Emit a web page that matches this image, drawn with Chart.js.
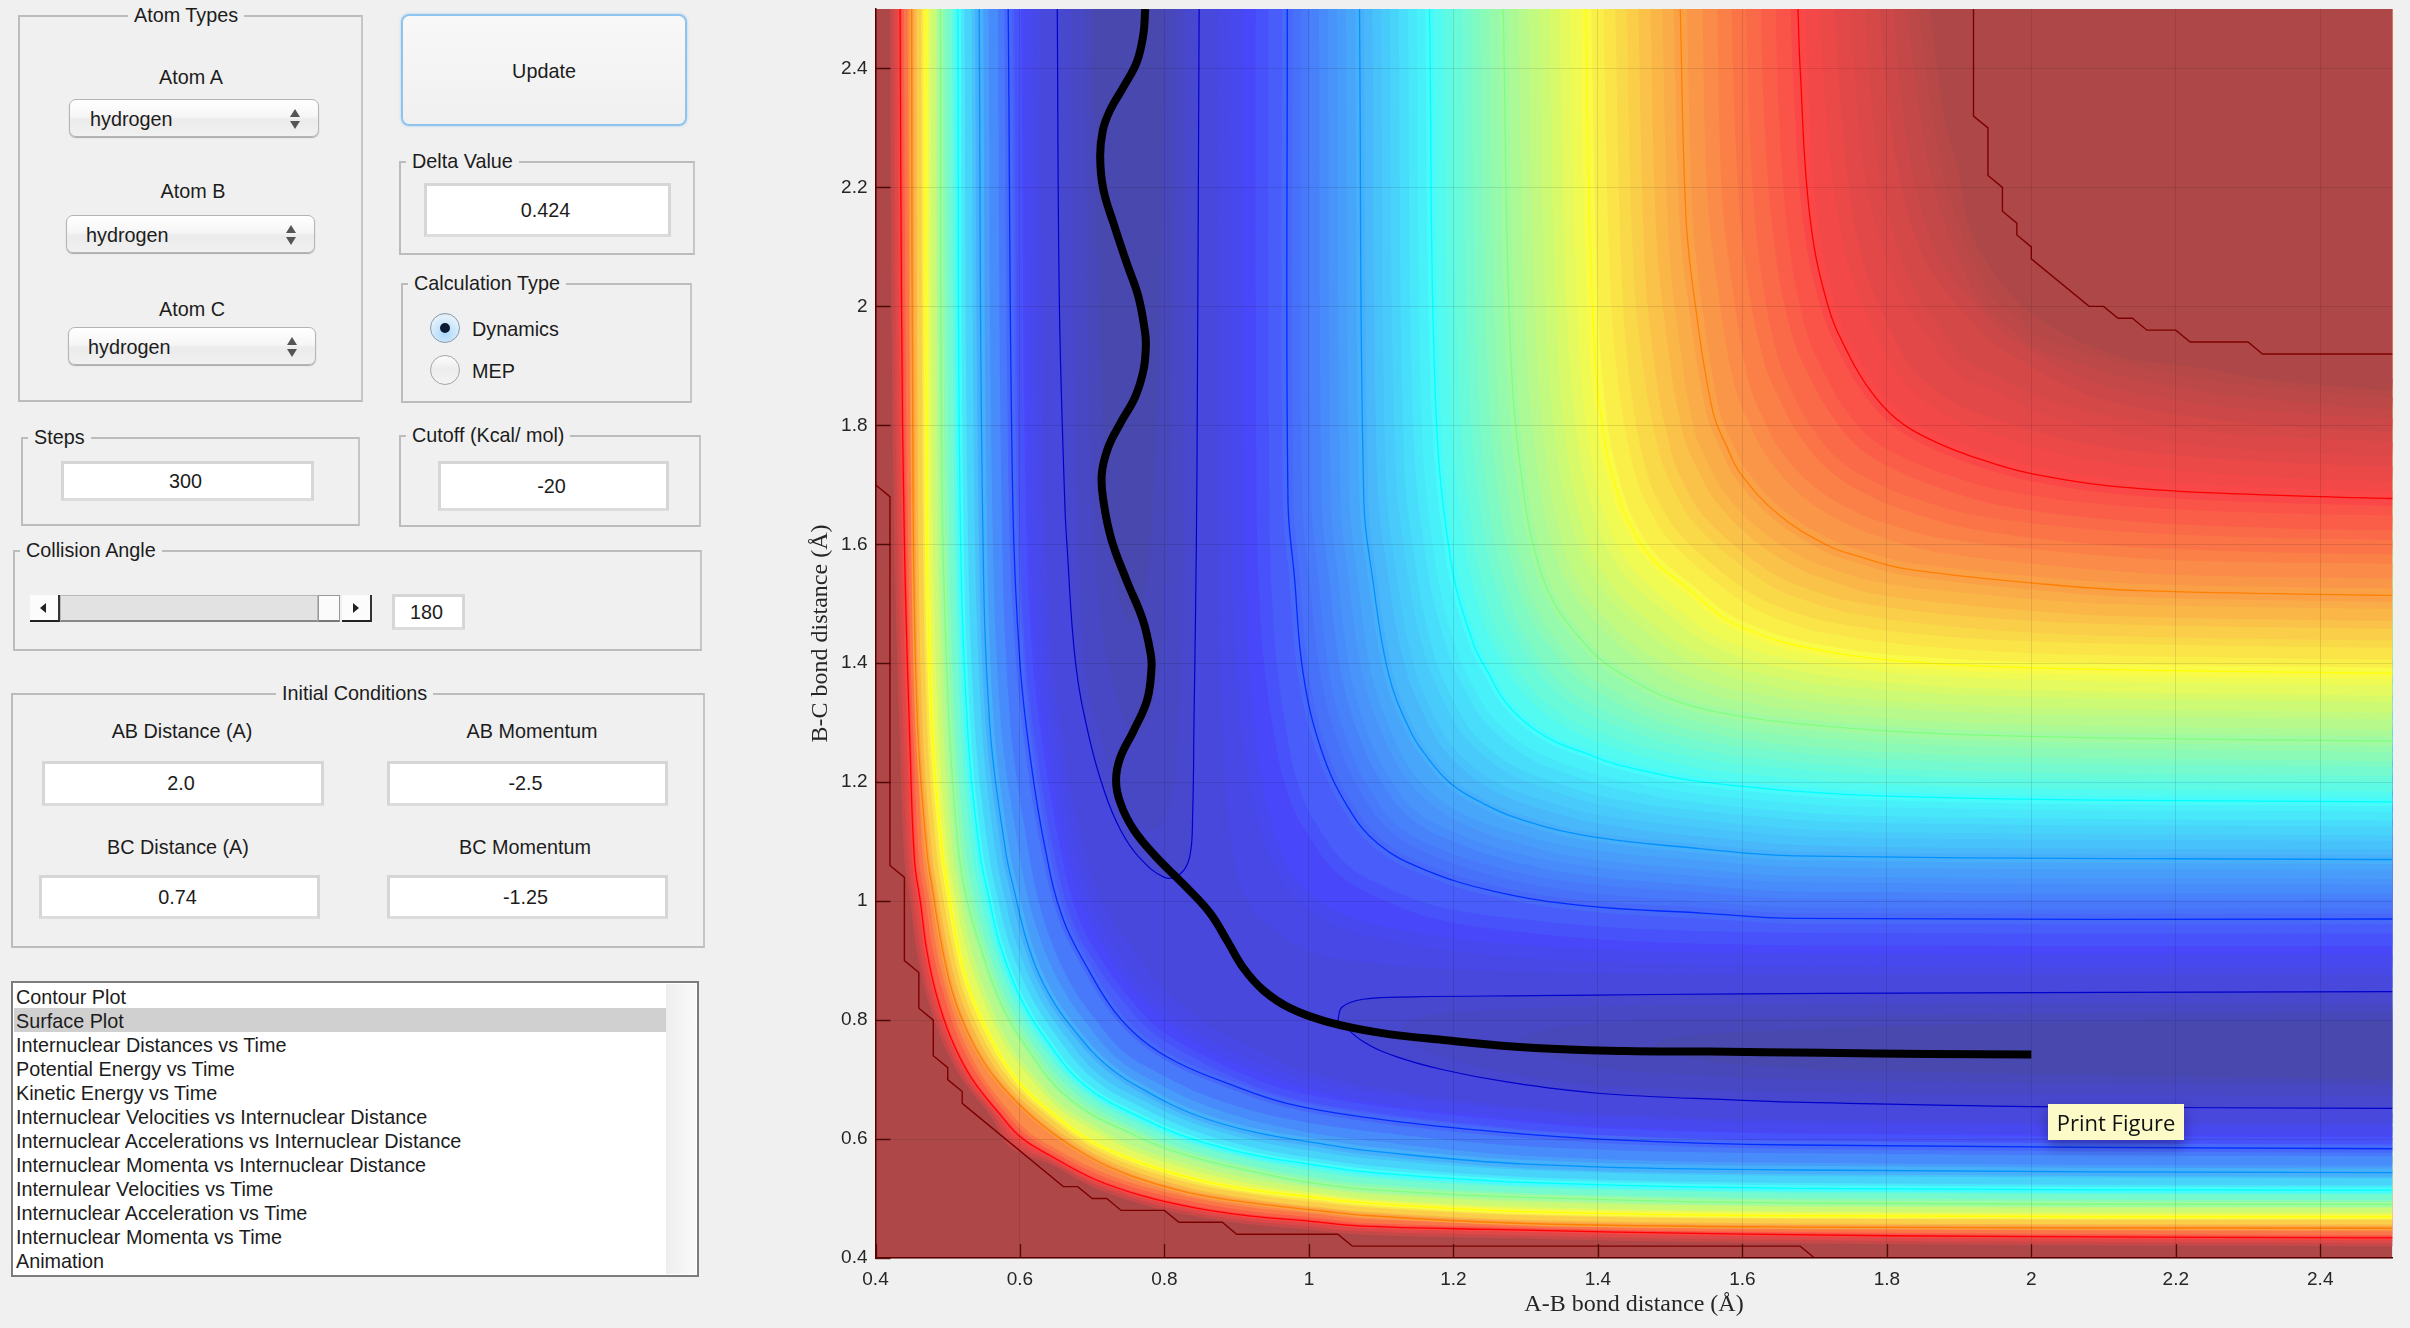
<!DOCTYPE html>
<html><head><meta charset="utf-8">
<script src="https://cdn.jsdelivr.net/npm/chart.js@4"></script>
<style>
html,body{margin:0;padding:0;background:#f0f0f0;width:2410px;height:1328px;overflow:hidden;font-family:"Liberation Sans",sans-serif;color:#1c1c1c;font-size:19.8px}
#c{position:absolute;left:760px;top:0}
.a{position:absolute;box-sizing:border-box}
.frame{border:2px solid #bcbcbc;border-right-color:#c6c6c6}
.title{background:#f0f0f0;padding:0 6px;line-height:22px;white-space:nowrap;transform:translateY(-50%)}
.lab{white-space:nowrap;transform:translate(-50%,-50%);line-height:22px}
.inp{background:#fff;border:3px solid #d6d6d6;border-bottom-color:#dcdcdc;display:flex;align-items:center;justify-content:center;padding-right:4px}
.dd{border:1px solid #b4b4b4;border-radius:7px;background:linear-gradient(#fff,#f6f6f6 45%,#ebebeb 55%,#f1f1f1);box-shadow:0 1px 1px #aaa;line-height:38px}
.up,.dn{position:absolute;width:0;height:0;border-left:5px solid transparent;border-right:5px solid transparent}
.up{border-bottom:8px solid #555}.dn{border-top:8px solid #555}
.li{white-space:nowrap;line-height:24px}
</style></head><body>
<canvas id="c" width="1650" height="1328"></canvas>
<div id="ui"></div>
<script>
// Surface contours: each curve runs from the top edge to the A-B = B-C diagonal;
// the surface is symmetric about that diagonal, so the second half of a curve is its reflection.
const wallLevels=[.96,.92,.875,.81,.75,.687,.625,.562,.5,.437,.375,.322,.27,.22,.17,.14,.11,.085];
const wallCurves=[
[[.422,2.5],[.424,2],[.428,1.6],[.436,1.25],[.442,1.068],[.45,1],[.459,.917],[.472,.844],[.492,.771],[.52,.704],[.56,.642],[.588,.588]],
[[.428,2.5],[.43,2],[.434,1.6],[.442,1.25],[.448,1.068],[.456,1],[.465,.917],[.478,.844],[.498,.771],[.526,.704],[.566,.642],[.595,.595]],
[[.434,2.5],[.436,2],[.44,1.6],[.448,1.25],[.454,1.068],[.462,1],[.471,.917],[.484,.844],[.504,.771],[.532,.704],[.572,.642],[.602,.602]],
[[.442,2.5],[.444,2],[.449,1.5],[.456,1.25],[.463,1.068],[.472,1],[.482,.917],[.497,.844],[.517,.771],[.546,.704],[.585,.642],[.61,.61]],
[[.45,2.5],[.452,1.675],[.458,1.3],[.471,1.085],[.479,1.018],[.493,.917],[.51,.833],[.538,.754],[.572,.693],[.627,.627]],
[[.46,2.5],[.462,1.675],[.468,1.3],[.481,1.085],[.49,1.01],[.504,.917],[.521,.838],[.552,.754],[.586,.693],[.636,.636]],
[[.4695,2.5],[.471,1.675],[.478,1.3],[.492,1.085],[.503,1],[.515,.917],[.532,.844],[.566,.754],[.6,.693],[.644,.644]],
[[.48,2.5],[.482,1.675],[.49,1.3],[.503,1.085],[.515,1],[.529,.92],[.551,.84],[.584,.757],[.625,.693],[.655,.655]],
[[.49,2.5],[.4925,1.675],[.502,1.3],[.515,1.085],[.527,1],[.544,.928],[.572,.833],[.606,.76],[.668,.668]],
[[.502,2.5],[.505,1.675],[.514,1.3],[.529,1.085],[.542,1],[.558,.928],[.586,.836],[.62,.765],[.68,.68]],
[[.514,2.5],[.517,1.675],[.527,1.3],[.544,1.085],[.558,1],[.572,.928],[.6,.839],[.634,.771],[.69,.69]],
[[.528,2.5],[.532,1.675],[.542,1.3],[.561,1.085],[.575,1],[.591,.925],[.62,.841],[.656,.774],[.705,.705]],
[[.5435,2.5],[.548,1.675],[.558,1.3],[.58,1.085],[.592,1.018],[.612,.923],[.64,.844],[.679,.777],[.722,.722]],
[[.563,2.5],[.568,1.675],[.58,1.3],[.605,1.085],[.619,1],[.64,.92],[.668,.85],[.7,.795],[.74,.74]],
[[.5837,2.5],[.59,1.673],[.6,1.4],[.615,1.235],[.634,1.094],[.659,.972],[.696,.882],[.73,.816],[.768,.768]],
[[.597,2.5],[.603,1.673],[.613,1.4],[.63,1.235],[.65,1.094],[.676,.972],[.713,.89],[.75,.83],[.785,.785]],
[[.613,2.5],[.619,1.673],[.63,1.4],[.648,1.235],[.669,1.094],[.697,.985],[.735,.9],[.77,.845],[.805,.805]],
[[.635,2.5],[.641,1.673],[.652,1.4],[.671,1.235],[.695,1.094],[.726,.99],[.765,.92],[.795,.87],[.83,.83]]
];
const plateauLevels=[.085,.11,.14,.17,.195,.22,.245,.27,.296,.322,.348,.375,.406,.437,.469,.5,.531,.562,.594,.625,.656,.687,.719,.75,.781,.812,.844,.875,.9,.925,.95,.975,1];
const plateauCurves=[
[[.865,2.5],[.866,1.7],[.868,1.4],[.875,1.2],[.885,1.09],[.905,1],[.945,.945]],
[[.9,2.5],[.901,1.7],[.906,1.45],[.92,1.25],[.94,1.13],[.965,1.05],[1,1]],
[[.935,2.5],[.936,1.7],[.943,1.45],[.958,1.3],[.98,1.18],[1.01,1.11],[1.05,1.05]],
[[.97,2.5],[.971,1.673],[.98,1.544],[.992,1.383],[1.017,1.255],[1.054,1.158],[1.096,1.096]],
[[.995,2.5],[.997,1.673],[1.007,1.544],[1.022,1.383],[1.048,1.263],[1.082,1.177],[1.12,1.12]],
[[1.02,2.5],[1.024,1.673],[1.034,1.544],[1.051,1.383],[1.078,1.271],[1.11,1.196],[1.145,1.145]],
[[1.045,2.5],[1.05,1.673],[1.061,1.544],[1.08,1.383],[1.109,1.279],[1.137,1.215],[1.171,1.171]],
[[1.07,2.5],[1.076,1.673],[1.088,1.544],[1.11,1.383],[1.14,1.287],[1.165,1.24],[1.197,1.197]],
[[1.094,2.5],[1.1,1.72],[1.115,1.552],[1.139,1.396],[1.167,1.31],[1.191,1.26],[1.222,1.222]],
[[1.118,2.5],[1.125,1.76],[1.142,1.56],[1.168,1.409],[1.195,1.333],[1.217,1.286],[1.248,1.248]],
[[1.143,2.5],[1.15,1.805],[1.169,1.568],[1.198,1.422],[1.222,1.357],[1.244,1.312],[1.275,1.275]],
[[1.167,2.5],[1.175,1.85],[1.196,1.576],[1.227,1.435],[1.25,1.38],[1.27,1.338],[1.3,1.3]],
[[1.192,2.5],[1.201,1.87],[1.222,1.602],[1.25,1.465],[1.272,1.41],[1.293,1.368],[1.326,1.326]],
[[1.218,2.5],[1.227,1.89],[1.247,1.628],[1.274,1.496],[1.295,1.44],[1.317,1.399],[1.352,1.352]],
[[1.243,2.5],[1.253,1.91],[1.272,1.654],[1.297,1.526],[1.317,1.47],[1.34,1.43],[1.378,1.378]],
[[1.269,2.5],[1.279,1.93],[1.298,1.68],[1.32,1.557],[1.34,1.5],[1.363,1.46],[1.405,1.405]],
[[1.297,2.5],[1.307,1.96],[1.325,1.714],[1.347,1.587],[1.369,1.527],[1.392,1.488],[1.435,1.435]],
[[1.326,2.5],[1.335,1.99],[1.351,1.749],[1.375,1.618],[1.398,1.555],[1.421,1.515],[1.465,1.465]],
[[1.354,2.5],[1.363,2.02],[1.378,1.783],[1.402,1.648],[1.426,1.582],[1.45,1.543],[1.495,1.495]],
[[1.383,2.5],[1.391,2.05],[1.404,1.817],[1.429,1.678],[1.455,1.61],[1.479,1.571],[1.525,1.525]],
[[1.416,2.5],[1.424,2.075],[1.437,1.865],[1.461,1.714],[1.486,1.647],[1.509,1.608],[1.556,1.556]],
[[1.448,2.5],[1.456,2.1],[1.469,1.913],[1.494,1.751],[1.517,1.685],[1.538,1.644],[1.587,1.587]],
[[1.481,2.5],[1.489,2.125],[1.502,1.962],[1.526,1.787],[1.549,1.722],[1.568,1.681],[1.618,1.618]],
[[1.514,2.5],[1.522,2.15],[1.534,2.01],[1.559,1.824],[1.58,1.76],[1.598,1.718],[1.65,1.65]],
[[1.555,2.5],[1.561,2.2],[1.574,2.05],[1.599,1.87],[1.622,1.8],[1.643,1.753],[1.69,1.69]],
[[1.595,2.5],[1.601,2.27],[1.613,2.08],[1.639,1.913],[1.664,1.84],[1.688,1.788],[1.73,1.73]],
[[1.636,2.5],[1.64,2.33],[1.653,2.12],[1.678,1.958],[1.706,1.878],[1.733,1.822],[1.77,1.77]],
[[1.677,2.5],[1.68,2.4],[1.693,2.156],[1.718,2.003],[1.748,1.917],[1.778,1.857],[1.812,1.812]],
[[1.718,2.5],[1.722,2.4],[1.737,2.2],[1.76,2.06],[1.79,1.97],[1.82,1.9],[1.855,1.855]],
[[1.76,2.5],[1.765,2.4],[1.78,2.22],[1.81,2.08],[1.84,2],[1.87,1.95],[1.9,1.9]],
[[1.8,2.5],[1.806,2.4],[1.825,2.23],[1.855,2.1],[1.89,2.03],[1.92,1.99],[1.95,1.95]],
[[1.836,2.5],[1.85,2.36],[1.87,2.22],[1.895,2.12],[1.92,2.05],[1.945,2],[1.975,1.975]],
[[1.868,2.5],[1.888,2.316],[1.905,2.24],[1.922,2.136],[1.95,2.07],[1.975,2.03],[2,2]]
];
const linedLevels=[.875,.75,.625,.5,.375,.27,.17];
// Valley floor: closed fingers, each a descending limb and a rising limb.
const fingerLevels=[.075,.055,.035,.02];
const fingerShades=[.065,.05,.035,.02];
const fingerDown=[
[[.6516,2.5],[.6546,2],[.662,1.67],[.665,1.6],[.677,1.4],[.696,1.274],[.717,1.184],[.739,1.12],[.764,1.075],[.8,1.04]],
[[.672,2.5],[.678,1.7],[.69,1.4],[.71,1.28],[.74,1.18],[.775,1.12]],
[[.69,2.5],[.697,1.8],[.71,1.5],[.73,1.36],[.76,1.28]],
[[.7,2.5],[.712,1.9],[.725,1.6],[.75,1.47]]
];
const fingerUp=[
[[.8,1.04],[.822,1.046],[.835,1.075],[.839,1.145],[.841,1.312],[.843,1.48],[.845,1.72],[.848,2.5]],
[[.775,1.12],[.8,1.14],[.815,1.22],[.825,1.5],[.828,2.5]],
[[.76,1.28],[.785,1.33],[.8,1.5],[.81,1.9],[.815,2.5]],
[[.75,1.47],[.77,1.5],[.785,1.7],[.795,2],[.8,2.5]]
];
// Cut-off outlines (stepped on the 0.02 grid).
const cutoffOuter=[[.4,2.5],[.4,1.7],[.42,1.68],[.42,1.06],[.44,1.04],[.44,.9],[.46,.88],[.46,.82],[.48,.8],[.48,.74],[.5,.72],[.5,.7],[.52,.68],[.52,.66],[.66,.52],[.68,.52],[.7,.5],[.72,.5],[.74,.48],[.8,.48],[.82,.46],[.88,.46],[.9,.44],[1.04,.44],[1.06,.42],[1.68,.42],[1.7,.4],[2.5,.4]];
const cutoffPlateau=[[1.92,2.5],[1.92,2.32],[1.94,2.3],[1.94,2.22],[1.96,2.2],[1.96,2.16],[1.98,2.14],[1.98,2.12],[2,2.1],[2,2.08],[2.08,2],[2.1,2],[2.12,1.98],[2.14,1.98],[2.16,1.96],[2.2,1.96],[2.22,1.94],[2.3,1.94],[2.32,1.92],[2.5,1.92]];
// Trajectory (A-B distance, B-C distance), from the top edge down to the end at (2, 0.74).
const trajAB=[.7733,.771,.7618,.7433,.7248,.7147,.711,.7155,.7294,.748,.764,.7733,.7742,.771,.7595,.7387,.7225,.7133,.7155,.7266,.748,.77,.781,.782,.776,.7575,.739,.733,.739,.7575,.788,.825,.8625,.887,.909,.937,.974,1.023,1.097,1.19,1.313,1.437,1.554,1.71,1.858,2];
const trajBC=[2.5,2.459,2.411,2.369,2.33,2.296,2.251,2.196,2.14,2.072,2.016,1.955,1.932,1.893,1.848,1.803,1.764,1.719,1.673,1.608,1.538,1.473,1.415,1.39,1.338,1.287,1.242,1.203,1.165,1.12,1.075,1.03,.981,.933,.888,.85,.82,.798,.779,.766,.753,.748,.747,.745,.743,.742];
const xMin=.4,xMax=2.5,tickStep=.2;
const xTitle="A-B bond distance (Å)",yTitle="B-C bond distance (Å)";

const listItems=["Contour Plot","Surface Plot","Internuclear Distances vs Time","Potential Energy vs Time","Kinetic Energy vs Time","Internuclear Velocities vs Internuclear Distance","Internuclear Accelerations vs Internuclear Distance","Internuclear Momenta vs Internuclear Distance","Internulear Velocities vs Time","Internuclear Acceleration vs Time","Internuclear Momenta vs Time","Animation"];

function jet(t){
  const c=v=>Math.max(0,Math.min(1,v));
  let r=c(Math.min(4*t-1.5,t>.875?1-(t-.875)*3.4:1));
  let g=c(Math.min(4*t-.5,-4*t+3.5));
  let b=c(Math.min(4*t+.5,-4*t+2.5));
  return [r,g,b];
}
const opaque=t=>{const [r,g,b]=jet(t);return `rgb(${r*255|0},${g*255|0},${b*255|0})`};
const shade=t=>{const [r,g,b]=jet(t);return `rgb(${r*178.5+72|0},${g*178.5+72|0},${b*178.5+72|0})`};
const pts=a=>a.map(([x,y])=>({x,y}));
const flip=a=>a.map(([x,y])=>[y,x]);
const full=h=>pts(h.concat(flip(h.slice(0,-1)).reverse()));
const common={pointRadius:0,pointHoverRadius:0,clip:0,tension:.4,borderWidth:0,fill:false,borderColor:'transparent'};
const ds=[];
ds.push({...common,data:pts([[xMin,.4],[xMax,.4]]),fill:'end',backgroundColor:shade(1),tension:0});
const isLined=t=>linedLevels.includes(t);
const pxPerUnit=722;
// Half-step stroke along each band edge softens the colour step; width follows the spacing of the neighbouring curves.
function soft(curves,i,k){
  const a=curves[Math.max(0,i-1)][0][0],b=curves[Math.min(curves.length-1,i+1)][0][0];
  const n=(i===0||i===curves.length-1)?1:2;
  return Math.max(1,Math.abs(b-a)/n*pxPerUnit*.5*k);
}
function addBands(curves,levels,last,k){
  curves.forEach((h,i)=>{
    const t=levels[i],nx=i+1<levels.length?levels[i+1]:last,d=full(h);
    ds.push({...common,data:d,fill:'end',backgroundColor:shade((t+nx)/2),borderWidth:soft(curves,i,k),borderColor:shade(t)});
    if(isLined(t))ds.push({...common,data:d,borderWidth:1.3,borderColor:opaque(t)});
  });
}
addBands(wallCurves,wallLevels,.08,1.3);
fingerDown.forEach((d,i)=>{
  const lined=i===0,col=shade(fingerShades[i]),line=lined?1.2:0,lc=opaque(fingerLevels[i]);
  ds.push({...common,data:pts(d.concat(fingerUp[i].slice(1))),fill:'end',backgroundColor:col,borderWidth:line,borderColor:lc});
  ds.push({...common,data:pts(flip(fingerUp[i])),fill:'+1',backgroundColor:col,borderWidth:line,borderColor:lc});
  ds.push({...common,data:pts(flip(d).reverse()),borderWidth:line,borderColor:lc});
});
addBands(plateauCurves,plateauLevels,1,1);
ds.push({...common,data:pts(cutoffOuter),tension:0,borderWidth:1.4,borderColor:'rgb(125,0,0)'});
ds.push({...common,data:pts(cutoffPlateau),tension:0,borderWidth:1.4,borderColor:'rgb(125,0,0)'});
ds.push({...common,data:trajAB.map((x,i)=>({x,y:trajBC[i]})),borderWidth:8,borderColor:'#000',tension:.4,borderJoinStyle:'round'});
ds.forEach((d,i)=>{d.order=ds.length-i});

const innerTicks={id:'innerTicks',afterDatasetsDraw(ch){
  const {ctx,chartArea:a,scales:{x,y}}=ch;ctx.save();ctx.strokeStyle='rgba(70,0,0,.85)';ctx.lineWidth=1.3;ctx.beginPath();
  x.ticks.forEach(t=>{const p=Math.round(x.getPixelForValue(t.value))+.5;ctx.moveTo(p,a.bottom);ctx.lineTo(p,a.bottom-14)});
  y.ticks.forEach(t=>{const p=Math.round(y.getPixelForValue(t.value))+.5;ctx.moveTo(a.left,p);ctx.lineTo(a.left+15,p)});
  ctx.stroke();ctx.restore();
}};
const tickFont={family:'"Liberation Sans"',size:19};
const tickText=v=>String(+(+v).toFixed(1));
const axisTitle=(text)=>({display:true,text,color:'#262626',font:{family:'"Liberation Serif"',size:24}});
new Chart(document.getElementById('c'),{
  type:'line',data:{datasets:ds},plugins:[innerTicks],
  options:{responsive:false,animation:false,devicePixelRatio:1,parsing:{xAxisKey:'x',yAxisKey:'y'},
    layout:{padding:{left:0,right:17.5,top:9,bottom:0}},
    plugins:{legend:{display:false},tooltip:{enabled:false}},events:[],
    scales:{
      x:{type:'linear',min:xMin,max:xMax,
        afterFit(s){s.height=70;s.paddingLeft=0;s.paddingRight=0},
        grid:{color:'rgba(0,0,0,.1)',drawTicks:false,z:1},border:{color:'rgb(90,0,0)',width:1.5,z:2},
        ticks:{stepSize:tickStep,includeBounds:false,autoSkip:false,maxRotation:0,padding:10,color:'#262626',font:tickFont,callback:tickText},
        title:{...axisTitle(xTitle),padding:{top:0,bottom:9}}},
      y:{type:'linear',min:.4,max:2.5,
        afterFit(s){s.width=115.5;s.paddingTop=0;s.paddingBottom=0},
        grid:{color:'rgba(0,0,0,.1)',drawTicks:false,z:1},border:{color:'rgb(90,0,0)',width:1.5,z:2},
        ticks:{stepSize:tickStep,includeBounds:false,autoSkip:false,padding:8,color:'#262626',font:tickFont,callback:tickText},
        title:{...axisTitle(yTitle),padding:{top:46,bottom:0}}}
    }}
});

// Control panel
const ui=document.getElementById('ui');
function el(cls,x,y,w,h,text,style){const d=document.createElement('div');d.className='a '+cls;d.style.left=x+'px';d.style.top=y+'px';
  if(w)d.style.width=w+'px';if(h)d.style.height=h+'px';if(text!=null)d.textContent=text;if(style)Object.assign(d.style,style);ui.appendChild(d);return d}
const frame=(x1,y1,x2,y2)=>el('frame',x1,y1,x2-x1,y2-y1);
const ttl=(x,y,t)=>el('title',x-6,y,0,0,t,{height:'22px',width:'auto'});
const lab=(x,y,t)=>el('lab',x,y,0,0,t,{width:'auto',height:'auto'});
const inp=(x1,y1,x2,y2,t)=>el('inp',x1,y1,x2-x1,y2-y1,t);
function dd(x1,y1,x2,y2,tx,t){el('dd',x1,y1,x2-x1,y2-y1);el('li',tx,y1+8,0,0,t,{width:'auto'});
  const ax=x2-24;el('up',ax-5,y1+10);el('dn',ax-5,y1+22)}
frame(18,15,363,402);ttl(134,15,'Atom Types');
lab(191,77,'Atom A');dd(69,99,319,137,90,'hydrogen');
lab(193,191,'Atom B');dd(66,215,315,253,86,'hydrogen');
lab(192,309,'Atom C');dd(68,327,316,365,88,'hydrogen');
el('',401,14,286,112,null,{border:'2px solid #8fc4ef',borderRadius:'8px',background:'linear-gradient(#f8f8f8,#f0f0f0)',boxShadow:'0 0 3px #a8d0f0'});
lab(544,71,'Update');
frame(399,161,695,255);ttl(412,161,'Delta Value');inp(424,183,671,237,'0.424');
frame(401,283,692,403);ttl(414,283,'Calculation Type');
el('',430,313,30,30,null,{borderRadius:'50%',border:'1px solid #8a9aaa',background:'radial-gradient(circle at 50% 70%,#a9d8fb,#e4f1fb 70%,#cfdfec)'});
el('',440,323,10,10,null,{borderRadius:'50%',background:'#0b1b33'});
el('li',472,317,0,0,'Dynamics',{width:'auto'});
el('',430,355,30,30,null,{borderRadius:'50%',border:'1px solid #a5a5a5',background:'linear-gradient(#fdfdfd,#ececec 50%,#f4f4f4)'});
el('li',472,359,0,0,'MEP',{width:'auto'});
frame(21,437,360,526);ttl(34,437,'Steps');inp(61,461,314,501,'300');
frame(399,435,701,527);ttl(412,435,'Cutoff (Kcal/ mol)');inp(438,461,669,511,'-20');
frame(13,550,702,651);ttl(26,550,'Collision Angle');
el('',60,595,258,27,null,{background:'#e2e2e2',border:'1px solid #b8b8b8',borderBottom:'2px solid #888'});
el('',30,595,30,27,null,{background:'#fcfcfc',borderRight:'2px solid #333',borderBottom:'2px solid #222'});
el('',40,603,0,0,null,{borderTop:'5px solid transparent',borderBottom:'5px solid transparent',borderRight:'6px solid #222'});
el('',318,595,22,27,null,{background:'#fbfbfb',border:'1px solid #999',borderBottom:'2px solid #777'});
el('',342,595,30,27,null,{background:'#fcfcfc',borderRight:'2px solid #333',borderBottom:'2px solid #222'});
el('',353,603,0,0,null,{borderTop:'5px solid transparent',borderBottom:'5px solid transparent',borderLeft:'6px solid #222'});
inp(392,594,465,630,'180');
frame(11,693,705,948);ttl(282,693,'Initial Conditions');
lab(182,731,'AB Distance (A)');inp(42,761,324,806,'2.0');
lab(532,731,'AB Momentum');inp(387,761,668,806,'-2.5');
lab(178,847,'BC Distance (A)');inp(39,875,320,919,'0.74');
lab(525,847,'BC Momentum');inp(387,875,668,919,'-1.25');
el('',11,981,688,296,null,{background:'#fff',border:'2px solid #7c7c7c'});
el('',666,984,30,290,null,{background:'linear-gradient(90deg,#eee,#fafafa)'});
el('',14,1008,652,24,null,{background:'#d0d0d0'});
listItems.forEach((t,i)=>el('li',16,985+i*24,0,0,t,{width:'auto'}));
el('',2048,1104,136,36,'Print Figure',{background:'#fcfbc8',color:'#111',font:'22px "Open Sans"',lineHeight:'36px',textAlign:'center',boxShadow:'0 6px 14px rgba(0,0,40,.35)'});
</script>
</body></html>
